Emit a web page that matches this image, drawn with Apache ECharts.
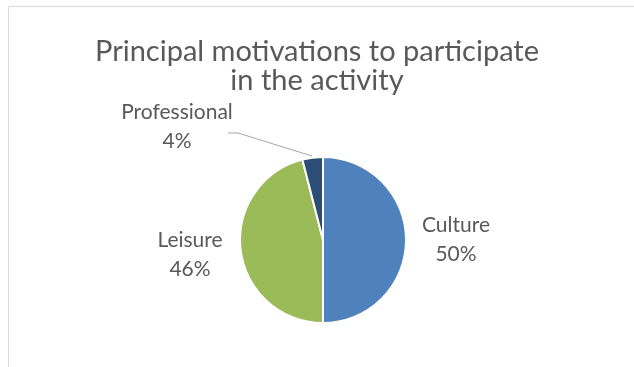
<!DOCTYPE html>
<html><head><meta charset="utf-8">
<script src="https://cdn.jsdelivr.net/npm/echarts@6/dist/echarts.min.js"></script>
<style>html,body{margin:0;padding:0;background:#fff}#c{width:634px;height:367px}</style>
</head><body><div id="c"></div>
<script>
const titleText = 'Principal motivations to participate\nin the activity';
const categories = ['Culture', 'Leisure', 'Professional'];
const values = [50, 46, 4];
const colors = ['#4F81BD', '#9BBB59', '#2C4D75'];

const labelAnchors = {
  'Culture': [456, 240],
  'Leisure': [190, 255],
  'Professional': [177, 127]
};

const chart = echarts.init(document.getElementById('c'), null, {renderer: 'canvas'});
chart.setOption({
  animation: false,
  graphic: [{
    type: 'rect', shape: {x: 8.5, y: 6.5, width: 700, height: 400},
    style: {fill: 'none', stroke: '#d9d9d9', lineWidth: 1}, silent: true, z: -1
  }],
  title: {
    text: titleText, left: 'center', top: 32,
    textStyle: {fontFamily: 'Lato', fontWeight: 'normal', fontSize: 29, color: '#595959', lineHeight: 29}
  },
  series: [{
    type: 'pie',
    center: [323, 240],
    radius: 83,
    startAngle: 90,
    clockwise: true,
    data: categories.map((n, i) => ({name: n, value: values[i], itemStyle: {color: colors[i]},
      labelLine: {show: n === 'Professional'}})),
    itemStyle: {borderColor: '#fff', borderWidth: 2},
    label: {
      show: true, position: 'outside',
      formatter: p => p.name + '\n' + Math.round(p.percent) + '%',
      fontFamily: 'Lato', fontSize: 21, color: '#595959', lineHeight: 29, align: 'center'
    },
    labelLine: {lineStyle: {color: '#a6a6a6', width: 1}, length: 10, length2: 10},
    labelLayout: function (params) {
      const name = categories[params.dataIndex];
      const a = labelAnchors[name];
      const r = {x: a[0], y: a[1], align: 'center', verticalAlign: 'middle'};
      if (name === 'Professional') {
        r.labelLinePoints = [[312, 156], [238, 133], [228, 133]];
      }
      return r;
    }
  }]
});
</script></body></html>
